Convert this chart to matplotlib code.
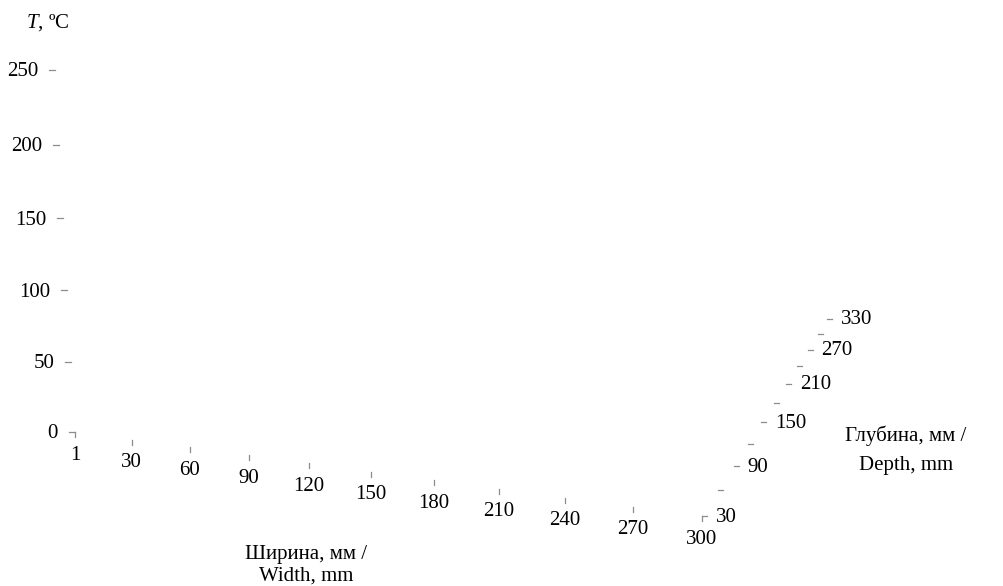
import matplotlib.pyplot as plt

plt.rcParams['font.family'] = ['Liberation Serif', 'DejaVu Serif']
plt.rcParams['mathtext.fontset'] = 'custom'
plt.rcParams['mathtext.it'] = 'Liberation Serif:italic'
plt.rcParams['mathtext.rm'] = 'Liberation Serif'

# axis values of the (empty) 3-D surface chart
temp_ticks = [0, 50, 100, 150, 200, 250]
temp_max = 250
width_labels = ['1', '30', '60', '90', '120', '150', '180', '210', '240', '270', '300']
depth_values = [30, 60, 90, 120, 150, 180, 210, 240, 270, 300, 330]
depth_labels = ['30', '', '90', '', '150', '', '210', '', '270', '', '330']

# screen position of the box corners (pixels) and perspective strength per axis
origin = (75, 432)
width_end = (702, 516)
depth_end = (827, 319)
temp_top = (55, 70)
persp_width, persp_depth, persp_temp = -0.106, 0.357, -0.037

tick_color = '#8c8c8c'
fs = 15


def persp(t, c):
    # 1-D perspective along an axis, t in 0..1
    return t * (1 + c) / (1 + c * t)


def along(p0, p1, t, c):
    s = persp(t, c)
    return p0[0] + (p1[0] - p0[0]) * s, p0[1] + (p1[1] - p0[1]) * s


fig = plt.figure(figsize=(10.04, 5.86), dpi=100)
ax = fig.add_axes([0, 0, 1, 1])
ax.set_xlim(0, 1004)
ax.set_ylim(586, 0)
ax.axis('off')
lw = 0.9

# vertical (temperature) axis
for v in temp_ticks:
    x, y = along(origin, temp_top, v / temp_max, persp_temp)
    ax.plot([x - 6, x], [y, y], color=tick_color, lw=lw)
    ax.text(x - 17, y + 2, str(v), ha='right', va='center', fontsize=fs)

# width axis (front edge)
n = len(width_labels) - 1
for i, lab in enumerate(width_labels):
    x, y = along(origin, width_end, i / n, persp_width)
    ax.plot([x, x], [y, y + 5], color=tick_color, lw=lw)
    ax.text(x, y + 23, lab, ha='center', va='center', fontsize=fs)

# depth axis (right edge)
m = len(depth_values) - 1
for i, lab in enumerate(depth_labels):
    x, y = along(width_end, depth_end, i / m, persp_depth)
    ax.plot([x, x + 5], [y, y], color=tick_color, lw=lw)
    if lab:
        ax.text(x + 14, y + 1, lab, ha='left', va='center', fontsize=fs)

# axis titles
ax.text(48, 23, r'$T$, ºC', ha='center', va='center', fontsize=fs)
ax.text(306, 565, 'Ширина, мм /\nWidth, mm', ha='center', va='center',
        fontsize=fs, linespacing=1.2)
ax.text(906, 450, 'Глубина, мм /\nDepth, mm', ha='center', va='center',
        fontsize=fs, linespacing=1.7)

fig.savefig('out.png', dpi=100)
